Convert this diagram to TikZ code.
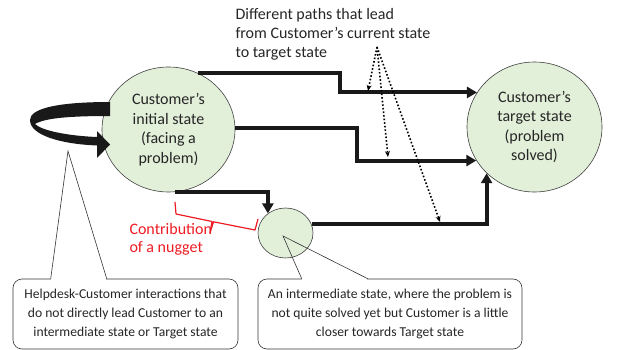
\documentclass[tikz,border=0pt]{standalone}
\usepackage{fontspec}
\setmainfont{Carlito}
\usepackage{tikz}
\usetikzlibrary{arrows,arrows.meta,positioning}
\usetikzlibrary{shapes.geometric,calc}

\definecolor{statefill}{RGB}{226,239,217}
\definecolor{nuggetred}{RGB}{237,28,36}

\tikzset{
	state/.style={ellipse, draw=black!75, line width=0.6pt, fill=statefill, align=center,
		inner sep=0pt, text=black!85, font=\fontsize{16}{19.5}\selectfont},
	route/.style={line width=4pt, draw=black!90, -{Triangle[length=10pt,width=11pt]}},
	hint/.style={dotted, line width=1.6pt, -{Stealth[length=6pt,width=5pt]}},
	note/.style={draw=black!80, line width=0.6pt, rounded corners=9pt, fill=white, align=center,
		text=black!85, font=\fontsize{13.6}{19}\selectfont},
	wedge/.style={draw=black!80, line width=0.6pt},
}

\begin{document}
\begin{tikzpicture}[x=1pt,y=-1pt]
		\useasboundingbox (0,0) rectangle (626,350);
		
		% the three states
		\node[state, minimum width=133pt, minimum height=125pt] (init) at (168.5,129.5)
		{Customer’s\\initial state\\(facing a\\problem)};
		\node[state, minimum width=135pt, minimum height=130pt] (target) at (534.5,127)
		{Customer’s\\target state\\(problem\\solved)};
		\node[state, minimum width=55pt, minimum height=50pt] (mid) at (285.5,233) {};
		
		% routes from initial to target state
		\coordinate (bendA) at (340,70);
		\coordinate (bendB) at (357,128);
		\draw[route] (init.62) -- (init.62 -| bendA) |- (target.149);
		\draw[route] (init.1) -- (init.1 -| bendB) |- (target.210);
		\draw[route] (init.-84) -| (mid.132);
		\draw[route] (mid.19) -| (target.224);
		
		% looping interactions
		\fill[black!90] (110,102) .. controls (60,102) and (30,108) .. (30,120)
		.. controls (30,135) and (60,144) .. (97,145.5) -- (97,158) -- (110,144.5) -- (97,131) -- (97,137)
		.. controls (70,136) and (42,131) .. (35,124)
		.. controls (45,118) and (70,116) .. (110,116) -- cycle;
		
		% the paths label
		\node[anchor=west, align=left, text=black!85, font=\fontsize{16}{19}\selectfont] (pathnote) at (232,34)
		{Different paths that lead\\from Customer’s current state\\to target state};
		\coordinate (fan) at (377,47);
		\coordinate (hintA) at (368,91);
		\coordinate (hintB) at (388,157);
		\coordinate (hintC) at (440,222);
		\foreach \h in {hintA,hintB,hintC}
		\draw[hint] (fan) -- (\h);
		
		% nugget brace
		\node[anchor=west, align=left, text=nuggetred, font=\fontsize{16}{18}\selectfont] (nugget) at (126,239)
		{Contribution\\of a nugget};
		\draw[nuggetred, line width=1.2pt, line join=round]
		(175,202) -- (176,214) -- (212,221.5) -- (210,233) -- (213.5,221.8) -- (255,230) -- (258,219);
		
		% callouts
		\node[note, minimum width=225pt, minimum height=70pt] (loopnote) at (125.5,314)
		{Helpdesk-Customer interactions that\\do not directly lead Customer to an\\intermediate state or Target state};
		\node[note, minimum width=264pt, minimum height=70pt] (midnote) at (390,314)
		{An intermediate state, where the problem is\\not quite solved yet but Customer is a little\\closer towards Target state};
		
		\coordinate (looptip) at (68,151);
		\coordinate (loopA) at ($(loopnote.north west)+(38,0)$);
		\coordinate (loopB) at ($(loopnote.north west)+(94,0)$);
		\fill[white] ($(loopA)+(0.5,1)$) rectangle ($(loopB)+(-0.5,-1)$);
		\draw[wedge] (loopA) -- (looptip) -- (loopB);
		
		\coordinate (midtip) at (283,236);
		\coordinate (midA) at ($(midnote.north west)+(44,0)$);
		\coordinate (midB) at ($(midnote.north west)+(110,0)$);
		\fill[white] ($(midA)+(0.5,1)$) rectangle ($(midB)+(-0.5,-1)$);
		\draw[wedge] (midA) -- (midtip) -- (midB);
		
\end{tikzpicture}
\end{document}
